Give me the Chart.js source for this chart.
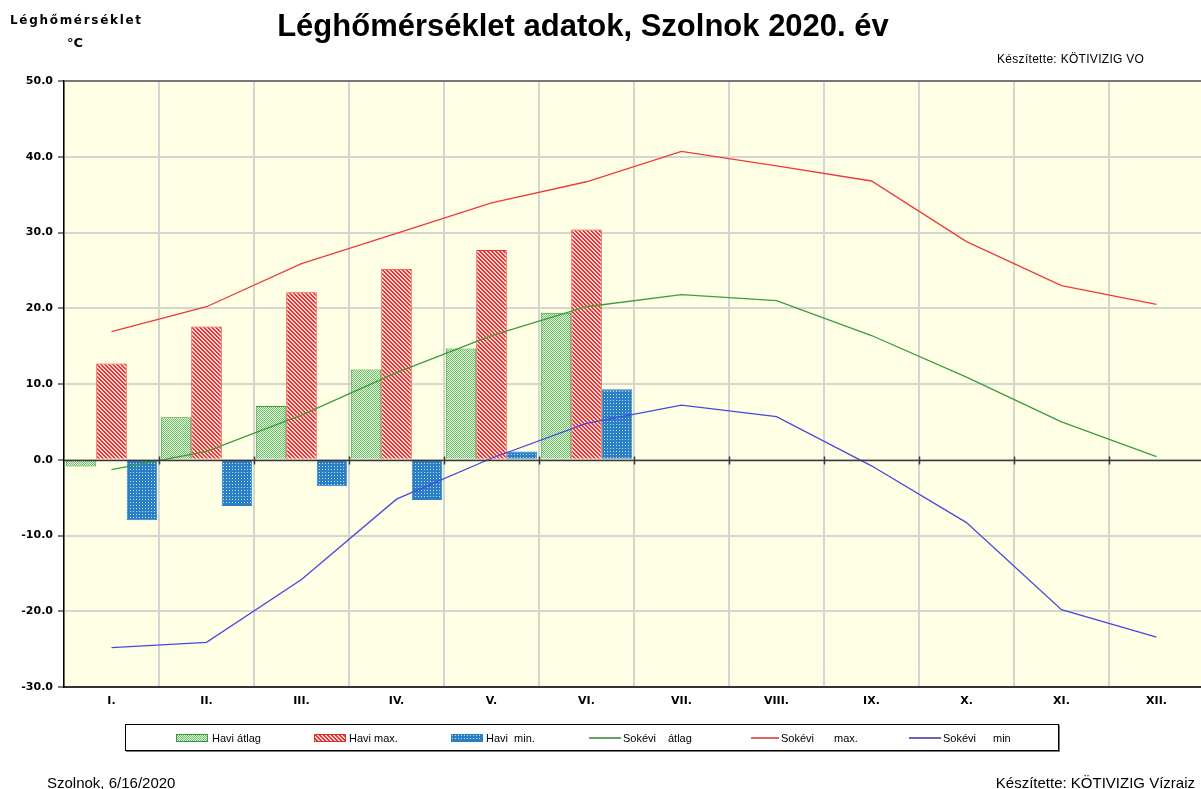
<!DOCTYPE html>
<html lang="hu">
<head>
<meta charset="UTF-8" />
<title>Léghőmérséklet adatok, Szolnok 2020. év</title>
<script src="https://cdn.jsdelivr.net/npm/chart.js"></script>
<style>
  body { margin: 0; width: 1201px; height: 789px; overflow: hidden; background: #fff; position: relative;
         font-family: "Liberation Sans", Arial, sans-serif; color: #000; }
  #wrap { position: absolute; left: 0; top: 0; width: 1210px; height: 789px; }
  .txt { position: absolute; white-space: pre; line-height: 1; }
  #cim { left: 0; width: 1166px; top: 10px; text-align: center; font-size: 31px; font-weight: bold; }
  #tengely { left: 10px; top: 14px; font-family: "DejaVu Sans", sans-serif; font-size: 12px; font-weight: bold; letter-spacing: 1.7px; }
  #fok { left: 67px; top: 36px; font-family: "DejaVu Sans", sans-serif; font-size: 13px; font-weight: bold; }
  #keszitette1 { left: 997px; top: 53px; font-size: 12px; letter-spacing: 0.3px; }
  #datum { left: 47px; top: 775px; font-size: 15px; }
  #keszitette2 { right: 6px; top: 775px; font-size: 15px; }
  #jelmagyarazat { position: absolute; left: 125px; top: 724px; width: 932px; height: 25px;
                   border: 1px solid #000; box-shadow: 1px 1px 0 #777; background: #fff; }
  #jelmagyarazat .txt { top: 8px; font-size: 11px; }
  #jelmagyarazat canvas { position: absolute; }
</style>
</head>
<body>

<div id="wrap"><canvas id="grafikon" width="1210" height="789"></canvas></div>

<div class="txt" id="cim">Léghőmérséklet adatok, Szolnok 2020. év</div>
<div class="txt" id="tengely">Léghőmérséklet</div>
<div class="txt" id="fok">°C</div>
<div class="txt" id="keszitette1">Készítette: KÖTIVIZIG VO</div>
<div class="txt" id="datum">Szolnok, 6/16/2020</div>
<div class="txt" id="keszitette2">Készítette: KÖTIVIZIG Vízraiz</div>

<div id="jelmagyarazat">
  <canvas id="jel0" width="32" height="8" style="left:50px;top:9px"></canvas>
  <span class="txt" style="left:86px">Havi átlag</span>
  <canvas id="jel1" width="32" height="8" style="left:188px;top:9px"></canvas>
  <span class="txt" style="left:223px">Havi max.</span>
  <canvas id="jel2" width="32" height="8" style="left:325px;top:9px"></canvas>
  <span class="txt" style="left:360px">Havi  min.</span>
  <canvas id="jel3" width="32" height="8" style="left:463px;top:9px"></canvas>
  <span class="txt" style="left:497px">Sokévi</span><span class="txt" style="left:542px">átlag</span>
  <canvas id="jel4" width="28" height="8" style="left:625px;top:9px"></canvas>
  <span class="txt" style="left:655px">Sokévi</span><span class="txt" style="left:708px">max.</span>
  <canvas id="jel5" width="32" height="8" style="left:783px;top:9px"></canvas>
  <span class="txt" style="left:817px">Sokévi</span><span class="txt" style="left:867px">min</span>
</div>

<script>
  // hónapok
  const honapok = ['I.', 'II.', 'III.', 'IV.', 'V.', 'VI.', 'VII.', 'VIII.', 'IX.', 'X.', 'XI.', 'XII.'];

  // 2020 havi értékek (°C), júniusig
  const haviAtlag = [-0.9, 5.6, 7.1, 11.9, 14.7, 19.4, null, null, null, null, null, null];
  const haviMax   = [12.7, 17.6, 22.1, 25.2, 27.7, 30.4, null, null, null, null, null, null];
  const haviMin   = [-8.0, -6.1, -3.5, -5.3, 1.1, 9.3, null, null, null, null, null, null];

  // sokévi értékek (°C)
  const sokeviAtlag = [-1.3, 1.1, 5.9, 11.5, 16.4, 20.2, 21.8, 21.0, 16.4, 10.9, 5.0, 0.4];
  const sokeviMax   = [16.9, 20.2, 25.9, 29.9, 33.9, 36.7, 40.7, 38.8, 36.8, 28.8, 23.0, 20.5];
  const sokeviMin   = [-24.8, -24.1, -15.8, -5.2, 0.2, 4.8, 7.2, 5.7, -0.8, -8.3, -19.8, -23.4];

  const yMin = -30, yMax = 50, yLepes = 10;

  // kitöltési minták az oszlopokhoz
  function minta(meret, szin) {
    const c = document.createElement('canvas');
    c.width = meret; c.height = meret;
    const g = c.getContext('2d');
    for (let x = 0; x < meret; x++) {
      for (let y = 0; y < meret; y++) {
        g.fillStyle = szin(x, y);
        g.fillRect(x, y, 1, 1);
      }
    }
    return document.getElementById('grafikon').getContext('2d').createPattern(c, 'repeat');
  }

  const zoldMinta = minta(4, (x, y) => ((x + y) % 2 === 0 ? '#6cbf68' : '#e6f4df'));
  const pirosMinta = minta(4, (x, y) => (((x - y + 8) % 4) < 2 ? '#ec3434' : '#fbd6d0'));
  const kekMinta = minta(3, (x, y) => (x === 1 && y === 1 ? '#bfe0f6' : '#2b7fc4'));

  const zoldKeret = '#3a9a38', pirosKeret = '#e23030', kekKeret = '#2b7fc4';

  // rajzterület háttere
  const hatter = {
    id: 'hatter',
    beforeDraw(chart) {
      const { ctx, chartArea: a } = chart;
      ctx.save();
      ctx.fillStyle = '#ffffe6';
      ctx.fillRect(a.left, a.top, a.right - a.left, a.bottom - a.top);
      ctx.restore();
    }
  };

  // nulla vonal osztásokkal a hónaphatárokon
  const nullaVonal = {
    id: 'nullaVonal',
    afterDatasetsDraw(chart) {
      const { ctx, chartArea: a, scales } = chart;
      const y0 = Math.round(scales.y.getPixelForValue(0)) + 0.5;
      ctx.save();
      ctx.strokeStyle = '#3a3a3a';
      ctx.lineWidth = 1.5;
      ctx.beginPath();
      ctx.moveTo(a.left, y0);
      ctx.lineTo(a.right, y0);
      for (let i = 1; i < honapok.length; i++) {
        const x = Math.round((scales.x.getPixelForValue(i - 1) + scales.x.getPixelForValue(i)) / 2) + 0.5;
        ctx.moveTo(x, y0 - 4);
        ctx.lineTo(x, y0 + 4);
      }
      ctx.stroke();
      ctx.restore();
    }
  };

  const oszlop = (cimke, adat, minta, keret) => ({
    type: 'bar', label: cimke, data: adat, order: 1,
    backgroundColor: minta, borderColor: keret, borderWidth: 1,
    categoryPercentage: 0.963, barPercentage: 1.0
  });

  const vonal = (cimke, adat, szin) => ({
    type: 'line', label: cimke, data: adat, order: 0,
    borderColor: szin, borderWidth: 1.3, pointRadius: 0, tension: 0, fill: false
  });

  const tickFont = { family: 'DejaVu Sans', size: 11, weight: 'bold' };

  new Chart(document.getElementById('grafikon'), {
    data: {
      labels: honapok,
      datasets: [
        oszlop('Havi átlag', haviAtlag, zoldMinta, zoldKeret),
        oszlop('Havi max.', haviMax, pirosMinta, pirosKeret),
        oszlop('Havi  min.', haviMin, kekMinta, kekKeret),
        vonal('Sokévi   átlag', sokeviAtlag, '#3c9c3c'),
        vonal('Sokévi    max.', sokeviMax, '#ee3a3a'),
        vonal('Sokévi    min', sokeviMin, '#4848e0')
      ]
    },
    options: {
      responsive: false,
      animation: false,
      layout: { padding: { top: 81, left: 0, right: 6, bottom: 0 } },
      plugins: { legend: { display: false }, tooltip: { enabled: false }, title: { display: false } },
      scales: {
        x: {
          type: 'category',
          offset: true,
          grid: { offset: true, color: '#d6d6d0', lineWidth: 2, drawTicks: false },
          border: { color: '#333', width: 2 },
          ticks: { font: tickFont, color: '#000', padding: 8 },
          afterFit(scale) { scale.height = 102; }
        },
        y: {
          min: yMin, max: yMax,
          grid: {
            color: ctx => (ctx.tick && ctx.tick.value === yMax ? '#777' : '#d6d6d0'),
            lineWidth: 2, tickLength: 6, tickColor: '#000', tickWidth: 1
          },
          border: { color: '#000', width: 1.5 },
          ticks: { stepSize: yLepes, font: tickFont, color: '#000', padding: 5,
                   callback: v => v.toFixed(1) },
          afterFit(scale) { scale.width = 64; }
        }
      }
    },
    plugins: [hatter, nullaVonal]
  });

  // jelmagyarázat mintái
  function jel(id, fn) {
    const g = document.getElementById(id).getContext('2d');
    fn(g, g.canvas.width, g.canvas.height);
  }
  [[zoldMinta, zoldKeret], [pirosMinta, pirosKeret], [kekMinta, kekKeret]].forEach(([m, k], i) => {
    jel('jel' + i, (g, w, h) => {
      g.fillStyle = m; g.fillRect(0, 0, w, h);
      g.strokeStyle = k; g.lineWidth = 1; g.strokeRect(0.5, 0.5, w - 1, h - 1);
    });
  });
  ['#006400', '#c00000', '#000080'].forEach((szin, i) => {
    jel('jel' + (i + 3), (g, w, h) => {
      g.strokeStyle = szin; g.lineWidth = 1.2;
      g.beginPath(); g.moveTo(0, 4); g.lineTo(w, 4); g.stroke();
    });
  });
</script>

</body>
</html>
